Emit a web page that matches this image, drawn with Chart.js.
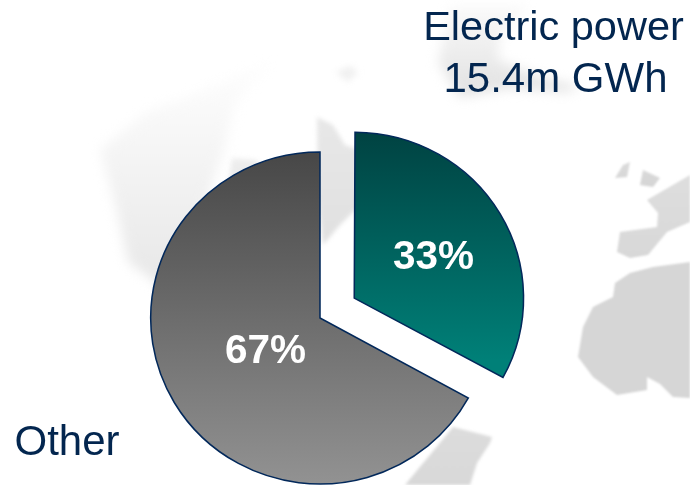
<!DOCTYPE html>
<html>
<head>
<meta charset="utf-8">
<title>Electric power share</title>
<style>
  html, body { margin: 0; padding: 0; background: #fff; }
  canvas { display: block; }
</style>
<script src="https://cdn.jsdelivr.net/npm/chart.js@4"></script>
</head>
<body>
<canvas id="chart" width="690" height="485"></canvas>
<script>
const categories = ['Electric power', 'Other'];
const shares = [33, 67];
const electricSubtitle = '15.4m GWh';

const TEXT_COLOR = '#03264f';
const OUTLINE_COLOR = '#02285a';
const FONT_NAME = '"Liberation Sans", Arial, sans-serif';
const PIE_RADIUS = 166;
const PIE_STRETCH_X = 1.02;
const SLICE_PULL = 39;

// Faint world map sitting behind the pie
const mapShapes = [
    { blur: 6, top: 60, bottom: 300, from: '#fefefe', to: '#e6e6e6', pts: [[100,150],[147,112],[200,92],[275,60],[250,85],[234,105],[224,150],[210,190],[180,300],[128,262],[116,207]] },
    { blur: 2.5, top: 150, bottom: 170, from: '#f0f0f0', to: '#ececec', pts: [[232,158],[257,160],[262,172],[228,185]] },
    { blur: 2, top: 115, bottom: 250, from: '#e8e8e8', to: '#e0e0e0', pts: [[317,117],[333,125],[345,145],[360,150],[360,205],[340,225],[323,245],[318,200]] },
    { blur: 3, top: 65, bottom: 85, from: '#f0f0f0', to: '#f0f0f0', pts: [[336,72],[350,66],[358,72],[348,82]] },
    { blur: 6, top: 0, bottom: 100, from: '#fcfcfc', to: '#e0e0e0', pts: [[450,5],[530,5],[500,35],[498,60],[545,78],[580,87],[567,92],[510,88],[460,97],[438,63]] },
    { blur: 1, top: 160, bottom: 190, from: '#dcdcdc', to: '#d4d4d4', pts: [[615,178],[623,165],[630,162],[627,177]] },
    { blur: 1, top: 160, bottom: 190, from: '#dcdcdc', to: '#d4d4d4', pts: [[643,170],[660,178],[653,187],[640,185]] },
    { blur: 1, top: 175, bottom: 260, from: '#dedede', to: '#d8d8d8', pts: [[647,200],[690,175],[690,222],[667,232],[648,255],[630,258],[617,252],[620,232],[657,227],[658,213]] },
    { blur: 1, top: 262, bottom: 400, from: '#d6d6d6', to: '#d6d6d6', pts: [[690,262],[653,267],[630,273],[615,283],[613,297],[593,307],[583,327],[578,357],[593,377],[617,395],[647,390],[647,377],[660,384],[673,397],[690,398]] },
    { blur: 1.5, top: 427, bottom: 485, from: '#dcdcdc', to: '#d8d8d8', pts: [[453,427],[492,437],[490,443],[477,463],[470,485],[405,485]] }
];

const mapBackdrop = {
    id: 'mapBackdrop',
    beforeDraw(chart) {
        const ctx = chart.ctx;
        ctx.save();
        mapShapes.forEach(shape => {
            const fill = ctx.createLinearGradient(0, shape.top, 0, shape.bottom);
            fill.addColorStop(0, shape.from);
            fill.addColorStop(1, shape.to);
            ctx.filter = 'blur(' + shape.blur + 'px)';
            ctx.fillStyle = fill;
            ctx.beginPath();
            shape.pts.forEach(([x, y], i) => i ? ctx.lineTo(x, y) : ctx.moveTo(x, y));
            ctx.closePath();
            ctx.fill();
        });
        ctx.restore();
    }
};

// Arc offset also grows the arc's radius by offset * (1 - sin(sweep)), so take that back
const pulledSliceSize = {
    id: 'pulledSliceSize',
    afterDatasetUpdate(chart) {
        const arc = chart.getDatasetMeta(0).data[0];
        arc.outerRadius = PIE_RADIUS - SLICE_PULL * (1 - Math.sin(arc.circumference));
    }
};

// The pie is slightly wider than tall
const widenPie = {
    id: 'widenPie',
    beforeDatasetsDraw(chart) {
        const ctx = chart.ctx;
        const centerX = chart.getDatasetMeta(0).data[1].x;
        ctx.save();
        ctx.translate(centerX, 0);
        ctx.scale(PIE_STRETCH_X, 1);
        ctx.translate(-centerX, 0);
    },
    afterDatasetsDraw(chart) {
        chart.ctx.restore();
    }
};

// Category captions and the percentages inside the slices
const sliceText = {
    id: 'sliceText',
    afterDraw(chart) {
        const ctx = chart.ctx;
        const arcs = chart.getDatasetMeta(0).data;
        ctx.save();
        ctx.textAlign = 'center';
        ctx.textBaseline = 'alphabetic';

        ctx.fillStyle = '#fff';
        ctx.font = 'bold 40.5px ' + FONT_NAME;
        ctx.fillText(shares[0] + '%', arcs[0].x + 113.5, arcs[0].y - 49);
        ctx.fillText(shares[1] + '%', arcs[1].x - 54.5, arcs[1].y + 45);

        ctx.fillStyle = TEXT_COLOR;
        ctx.font = '41.5px ' + FONT_NAME;
        ctx.fillText(categories[0], 553.5, 40);
        ctx.font = '42px ' + FONT_NAME;
        ctx.fillText(electricSubtitle, 555.5, 92);
        ctx.fillText(categories[1], 67, 455);
        ctx.restore();
    }
};

function sliceFill(context) {
    const ctx = context.chart.ctx;
    const fill = context.dataIndex === 0
        ? ctx.createLinearGradient(0, 132, 0, 380)
        : ctx.createLinearGradient(0, 152, 0, 484);
    if (context.dataIndex === 0) {
        fill.addColorStop(0, '#003d3d');
        fill.addColorStop(1, '#008078');
    } else {
        fill.addColorStop(0, '#474747');
        fill.addColorStop(1, '#929292');
    }
    return fill;
}

new Chart(document.getElementById('chart'), {
    type: 'pie',
    data: {
        labels: categories,
        datasets: [{
            data: shares,
            backgroundColor: sliceFill,
            borderColor: OUTLINE_COLOR,
            borderWidth: 1.5,
            borderJoinStyle: 'miter',
            // the arc element moves by a quarter of this value
            offset: [SLICE_PULL * 4, 0]
        }]
    },
    options: {
        responsive: false,
        animation: false,
        radius: PIE_RADIUS,
        layout: { padding: { top: 151, right: 50, bottom: 0, left: 0 } },
        plugins: {
            legend: { display: false },
            tooltip: { enabled: false }
        }
    },
    plugins: [mapBackdrop, pulledSliceSize, widenPie, sliceText]
});
</script>
</body>
</html>
